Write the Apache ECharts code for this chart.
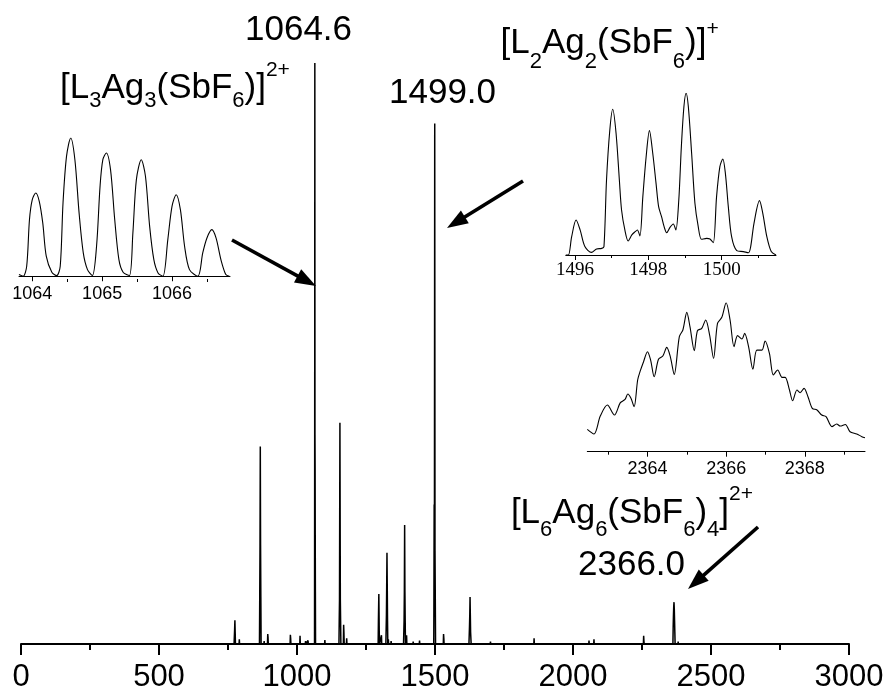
<!DOCTYPE html>
<html><head><meta charset="utf-8">
<script src="https://cdn.jsdelivr.net/npm/echarts@6/dist/echarts.min.js"></script>
<style>html,body{margin:0;padding:0;background:#fff}#c{width:892px;height:696px}</style>
</head><body><div id="c"></div>
<script>
// ---------- DATA ----------
// main spectrum: [m/z, relative intensity]
const spectrum = [
[0,0],[600,0],[649,0],[650,0.2],[651,0],[699,0],[700,0.3],[701,0],[739,0],[740,0.2],[741,0],
[772,0],[774,2.5],[775,4.1],[776,2],[777,0],
[790,0],[791,0.8],[792,0],[819,0],[820,0.2],[821,0],
[864,0],[865,8],[866,17],[867,34],[868,17],[869,8],[870,0],
[880,0],[881,0.5],[882,0],
[893,0],[894,1.7],[895,1.2],[896,0],
[930,0],[931,0.3],[932,0],
[975,0],[976,1.6],[977,1],[978,0],
[990,0],[991,0.3],[992,0],
[1010,0],[1011,1.4],[1012,0],
[1030,0],[1031,0.5],[1032,0],[1039,0],[1040,0.6],[1041,0],
[1063.5,0],[1064.1,36],[1064.6,100],[1065.1,36],[1065.6,30],[1066.1,18],[1066.6,9],[1067.2,0],
[1100,0],[1101,0.7],[1102,0],
[1152,0],[1153,4],[1154,7.6],[1155.5,38.1],[1157,7.6],[1158,4],[1159,0],
[1168,0],[1169,3.3],[1170,2],[1171,0],
[1179,0],[1180,1],[1181,0],
[1200,0],[1201,0.3],[1202,0],
[1230,0],[1231,0.3],[1232,0],
[1294,0],[1295,4],[1296.5,8.6],[1298,2],[1299,0],
[1305,0],[1306,1.5],[1307,0],
[1322,0],[1324,5],[1325,10],[1326,15.7],[1327,10],[1328,4],[1329,0],
[1330,0],[1331,0.8],[1332,0],[1340,0],[1341,0.5],[1342,0],
[1386,0],[1388,4],[1389,9],[1390,20.5],[1391,9],[1392,4],[1393,0],
[1396,0],[1397,1.5],[1398,0],
[1420,0],[1421,0.4],[1422,0],[1443,0],[1444,0.6],[1445,0],
[1480,0],[1481,0.3],[1482,0],
[1495.5,0],[1496,6],[1497,24],[1498,21],[1499,89.6],[1500,16],[1501,8],[1502,0],
[1530,0],[1531,1.7],[1532,1],[1533,0],
[1560,0],[1561,0.3],[1562,0],
[1623,0],[1625,3],[1626,5],[1627,8.1],[1628,5],[1629,2],[1631,0],
[1640,0],[1641,0.3],[1642,0],
[1700,0],[1701,0.4],[1702,0],
[1780,0],[1781,0.2],[1782,0],
[1858,0],[1859,1],[1860,0],
[1900,0],[1901,0.2],[1902,0],
[2000,0],[2001,0.3],[2002,0],
[2057,0],[2058,0.6],[2059,0],
[2075,0],[2076,0.8],[2077,0],
[2100,0],[2101,0.3],[2102,0],
[2200,0],[2201,0.3],[2202,0],
[2255,0],[2256,1.4],[2257,0.5],[2258,0],
[2362,0],[2363,3],[2364,5],[2365,6.5],[2366,7.2],[2367,6],[2368,4],[2369,2],[2370,0],
[2380,0],[2381,0.4],[2382,0],
[2500,0],[2501,0.2],[2502,0],
[2560,0],[2561,0.3],[2562,0],
[2700,0],[2701,0.2],[2702,0],
[2800,0],[2801,0.2],[2802,0],
[3000,0]
];
const mainTickValues = [0,500,1000,1500,2000,2500,3000];

// inset 1: isotope pattern around 1064.6 (2+)
const inset1 = [
[1063.81,1.2],[1063.87,0],[1063.92,7.2],[1063.96,41],[1064.00,55.4],[1064.05,60.2],[1064.10,54.2],[1064.15,38.6],[1064.20,14.5],[1064.28,2.9],[1064.35,0.5],
[1064.40,7.2],[1064.44,53],[1064.49,86.7],[1064.55,100],[1064.61,84.3],[1064.67,45.8],[1064.73,16.9],[1064.79,4.8],[1064.86,0.5],
[1064.92,21.7],[1064.97,65],[1065.01,84.3],[1065.06,89.2],[1065.12,77.1],[1065.18,41],[1065.24,12],[1065.30,2.9],[1065.39,0.5],
[1065.44,31.3],[1065.49,69.9],[1065.56,84.3],[1065.62,72.3],[1065.68,36.1],[1065.74,12],[1065.80,2.4],[1065.87,0],
[1065.94,26.5],[1066.00,50.6],[1066.06,59],[1066.12,48.2],[1066.18,21.7],[1066.25,4.8],[1066.37,0],
[1066.44,16.9],[1066.50,27.7],[1066.57,33.7],[1066.63,27.7],[1066.70,12],[1066.77,1.2],[1066.82,0]
];
const inset1Ticks = [1064,1065,1066];
const inset1Minor = [1064.5,1065.5,1066.5];

// inset 2: isotope pattern around 1499.0 (1+)
const inset2 = [
[1495.75,0],[1495.82,0],[1495.91,11.3],[1496.03,21.6],[1496.14,15.5],[1496.27,5.2],[1496.45,1.6],[1496.59,3.7],[1496.73,4.1],[1496.79,5.2],
[1496.86,46.4],[1496.95,77.3],[1497.03,90.1],[1497.12,75.3],[1497.21,46.4],[1497.27,27.8],[1497.36,15.5],[1497.45,8.7],[1497.55,12.4],[1497.64,14.4],[1497.70,15.5],[1497.77,11.8],
[1497.85,36.1],[1497.94,60.8],[1498.03,76.9],[1498.12,62.9],[1498.21,44.3],[1498.28,29.9],[1498.36,23.7],[1498.43,17.5],[1498.50,13.8],[1498.59,17.1],[1498.68,19.2],[1498.75,15.5],
[1498.83,34],[1498.90,67],[1498.97,91.8],[1499.03,100],[1499.09,91.8],[1499.18,62.9],[1499.27,32],[1499.36,17.5],[1499.45,9.7],[1499.59,10.3],[1499.68,9.9],[1499.77,7.6],
[1499.86,36.1],[1499.95,54.6],[1500.03,59.4],[1500.10,50.5],[1500.18,29.9],[1500.27,11.3],[1500.41,2.7],[1500.59,2.1],[1500.73,1.4],[1500.79,5.2],
[1500.88,19.6],[1501.03,33.6],[1501.12,25.8],[1501.23,11.3],[1501.35,2.1],[1501.48,0]
];
const inset2Ticks = [1496,1498,1500];
const inset2Minor = [1497,1499,1501];

// inset 3: isotope envelope around 2366.0 (2+)
const inset3 = [
[2362.47,15.0],[2362.64,11.9],[2362.80,23.9],[2362.98,31.3],[2363.16,24.6],[2363.31,32.9],[2363.43,35.1],[2363.50,38.7],[2363.58,35.8],[2363.66,30.2],
[2363.75,48.1],[2363.81,53.7],[2363.90,60.4],[2364.00,67.1],[2364.08,61.5],[2364.17,50.3],[2364.28,62],[2364.39,64.2],[2364.49,70],[2364.58,63.8],[2364.68,51.9],
[2364.81,77.2],[2364.90,81.7],[2365.00,93.5],[2365.08,83.9],[2365.19,67.8],[2365.27,81.2],[2365.38,82.8],[2365.48,88.4],[2365.58,78.3],[2365.68,62.6],
[2365.78,86.1],[2365.89,90.2],[2366.00,100],[2366.10,88.4],[2366.20,70.5],[2366.29,77.9],[2366.40,75.6],[2366.47,79.4],[2366.57,70.5],[2366.68,55.3],
[2366.78,68.2],[2366.91,68.2],[2366.99,74.3],[2367.10,66],[2367.20,51.5],[2367.31,54.8],[2367.42,49.9],[2367.50,49.9],[2367.61,41.4],[2367.69,34.2],
[2367.80,41.4],[2367.88,39.6],[2367.98,42.5],[2368.08,36.9],[2368.19,29.1],[2368.31,28],[2368.43,24.6],[2368.54,23.5],[2368.69,16.8],[2368.81,18.6],
[2368.90,17.2],[2369.03,18.3],[2369.15,13.4],[2369.32,11.9],[2369.45,10.1],[2369.53,9.4]
];
const inset3Ticks = [2364,2366,2368];
const inset3Minor = [2363,2365,2367,2369];

// annotation texts
const peakLabels = ['1064.6','1499.0','2366.0'];

// ---------- CHART ----------
const SANS = 'Liberation Sans, Arial, sans-serif';
const SERIF = 'Liberation Serif, Times New Roman, serif';
const chart = echarts.init(document.getElementById('c'), null, {renderer:'canvas'});

const g1 = {left:19, top:138, width:211, height:141};
const g2 = {left:565.8, top:93.3, width:210.2, height:161.7};
const g3 = {left:587.3, top:302.7, width:277.7, height:149};

function insetAxis(gi, min, max, ticks, font, fs, margin){
  return {gridIndex:gi, type:'value', min:min, max:max,
    axisLine:{show:true, lineStyle:{color:'#000', width:1}},
    axisTick:{show:true, customValues:ticks, length:5, inside:false, lineStyle:{color:'#000', width:1}},
    axisLabel:{show:true, customValues:ticks, fontSize:fs, fontFamily:font, color:'#000', margin:margin, formatter:v=>String(v)},
    splitLine:{show:false}};
}
function minorAxis(gi, min, max, ticks){
  return {gridIndex:gi, type:'value', min:min, max:max,
    axisLine:{show:false},
    axisTick:{show:true, customValues:ticks, length:3, lineStyle:{color:'#000', width:1}},
    axisLabel:{show:false}, splitLine:{show:false}};
}
function hiddenY(gi, min, max){ return {gridIndex:gi, type:'value', min:min, max:max, show:false}; }

function arrow(x1,y1,x2,y2){
  const dx=x2-x1, dy=y2-y1, L=Math.hypot(dx,dy), ux=dx/L, uy=dy/L;
  const hl=21, hw=7.5;
  const bx=x2-ux*hl, by=y2-uy*hl;
  return [
    {type:'line', silent:true, shape:{x1:x1,y1:y1,x2:bx+ux*3,y2:by+uy*3}, style:{stroke:'#000', lineWidth:3.6}},
    {type:'polygon', silent:true, shape:{points:[[x2,y2],[bx-uy*hw,by+ux*hw],[bx+uy*hw,by-ux*hw]]}, style:{fill:'#000'}}
  ];
}
function richSet(pm, ps){
  return {
    n:{fontSize:35, fontFamily:SANS, fill:'#000', verticalAlign:'top', padding:[pm,0,0,0]},
    s:{fontSize:22, fontFamily:SANS, fill:'#000', verticalAlign:'top', padding:[ps,0,0,0]},
    p:{fontSize:21, fontFamily:SANS, fill:'#000', verticalAlign:'top', padding:[0,0,0,0]}
  };
}
function plainText(x, baseline, txt){
  return {type:'text', silent:true, x:x, y:baseline-12.1,
    style:{text:txt, fontSize:35, fontFamily:SANS, fill:'#000', verticalAlign:'middle', align:'left'}};
}

const graphics = [
  plainText(245, 42, peakLabels[0]),
  plainText(389, 105, peakLabels[1]),
  plainText(578, 577, peakLabels[2]),
  {type:'text', silent:true, x:60, y:60.2, style:{align:'left', verticalAlign:'top',
    text:'{n|[L}{s|3}{n|Ag}{s|3}{n|(SbF}{s|6}{n|)]}{p|2+}', rich:richSet(10.2,30.2)}},
  {type:'text', silent:true, x:500.5, y:19.2, style:{align:'left', verticalAlign:'top',
    text:'{n|[L}{s|2}{n|Ag}{s|2}{n|(SbF}{s|6}{n|)]}{p|+}', rich:richSet(6.2,32.2)}},
  {type:'text', silent:true, x:753, y:484.2, style:{align:'right', verticalAlign:'top',
    text:'{n|[L}{s|6}{n|Ag}{s|6}{n|(SbF}{s|6}{n|)}{s|4}{n|]}{p|2+}', rich:richSet(11.2,35.2)}},
  ...arrow(232,240,316,286),
  ...arrow(523,181,447,228),
  ...arrow(758,527,688,589)
];

const option = {
  animation:false,
  backgroundColor:'#fff',
  grid:[
    {left:21, right:43, top:63, bottom:52},
    g1, g2, g3, g1, g2, g3
  ],
  xAxis:[
    {gridIndex:0, type:'value', min:0, max:3000, interval:500,
      axisLine:{show:true, lineStyle:{color:'#000', width:2}},
      axisTick:{show:true, length:11, lineStyle:{color:'#000', width:2}},
      minorTick:{show:true, splitNumber:2, length:6, lineStyle:{color:'#000', width:2}},
      axisLabel:{fontSize:31, fontFamily:SANS, color:'#000', margin:18, showMinLabel:true, showMaxLabel:true,
        customValues:mainTickValues, formatter:v=>String(v)},
      splitLine:{show:false}, minorSplitLine:{show:false}},
    insetAxis(1, 1063.81, 1066.83, inset1Ticks, SANS, 18, 6),
    insetAxis(2, 1495.75, 1501.48, inset2Ticks, SERIF, 19, 6),
    insetAxis(3, 2362.47, 2369.53, inset3Ticks, SANS, 18, 8),
    minorAxis(4, 1063.81, 1066.83, inset1Minor),
    minorAxis(5, 1495.75, 1501.48, inset2Minor),
    minorAxis(6, 2362.47, 2369.53, inset3Minor)
  ],
  yAxis:[
    hiddenY(0,0,100), hiddenY(1,-2,100), hiddenY(2,0,100), hiddenY(3,0,100),
    hiddenY(4,0,100), hiddenY(5,0,100), hiddenY(6,0,100)
  ],
  series:[
    {type:'line', xAxisIndex:0, yAxisIndex:0, data:spectrum, showSymbol:false, symbol:'none',
      lineStyle:{color:'#000', width:1.5}, silent:true},
    {type:'line', xAxisIndex:1, yAxisIndex:1, data:inset1, showSymbol:false, symbol:'none', smooth:0.3,
      lineStyle:{color:'#000', width:1.1}, silent:true},
    {type:'line', xAxisIndex:2, yAxisIndex:2, data:inset2, showSymbol:false, symbol:'none', smooth:0.3,
      lineStyle:{color:'#000', width:1.1}, silent:true},
    {type:'line', xAxisIndex:3, yAxisIndex:3, data:inset3, showSymbol:false, symbol:'none', smooth:0.3,
      lineStyle:{color:'#000', width:1.1}, silent:true}
  ],
  graphic:graphics
};
chart.setOption(option);
</script>
</body></html>
